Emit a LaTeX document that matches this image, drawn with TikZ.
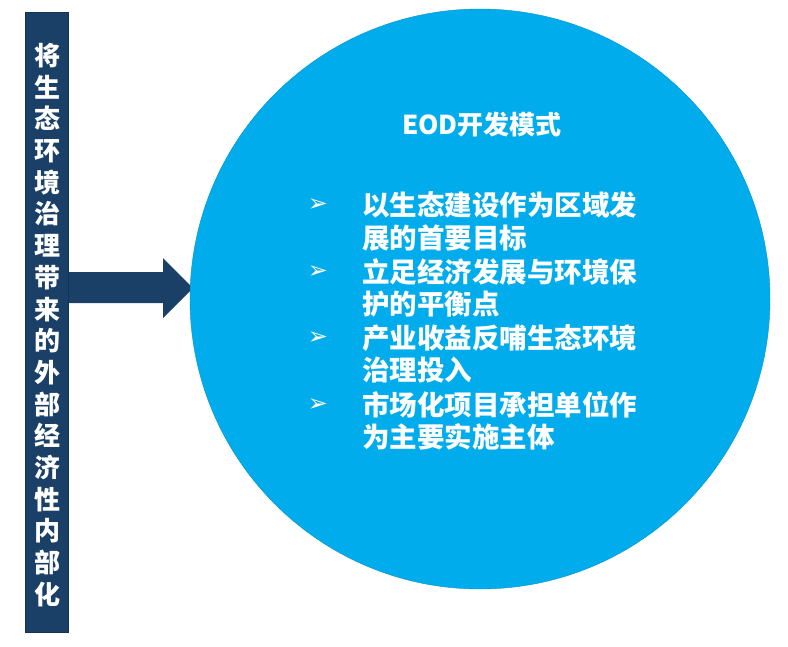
\documentclass[tikz,border=0pt]{standalone}
\usepackage{fontspec}
\setmainfont{DejaVu Sans}
\newfontfamily\cjk{Noto Sans CJK SC}
\definecolor{navy}{RGB}{26,64,104}
\definecolor{sky}{RGB}{0,172,236}
\tikzset{txt/.style={text=white,font=\cjk\fontsize{27.5}{27.5}\selectfont\bfseries,anchor=west,inner sep=0pt}}
\begin{document}
\begin{tikzpicture}[x=1pt,y=-1pt]
\useasboundingbox (0,0) rectangle (788,646);
\node[fill=navy,draw=navy!80!black,minimum width=43pt,minimum height=620pt,inner sep=0pt,anchor=north west] (bar) at (25,12) {};
\node[text=white,font=\cjk\fontsize{26}{31.7}\selectfont\bfseries,text width=30pt,align=center] (bt) at (47,325) {将\\生\\态\\环\\境\\治\\理\\带\\来\\的\\外\\部\\经\\济\\性\\内\\部\\化};
\fill[navy] (69,272) -- (163,272) -- (163,258) -- (193,288) -- (163,318) -- (163,303) -- (69,303) -- cycle;
\node[circle,fill=sky,draw=sky!85!black,minimum size=580pt,inner sep=0pt] (c) at (480,299) {};
\node[text=white,font=\cjk\fontsize{26}{26}\selectfont\bfseries] (t) at (482,125) {EOD开发模式};
\foreach \y/\s in {205/以生态建设作为区域发,238/展的首要目标,272/立足经济发展与环境保,304/护的平衡点,338/产业收益反哺生态环境,370/治理投入,405/市场化项目承担单位作,437/为主要实施主体}
  \node[txt] at (362,\y) {\s};
\foreach \y in {205,272,338,405}
  \node[text=white,font=\fontsize{24}{24}\selectfont] at (318,\y) {➢};
\end{tikzpicture}
\end{document}
